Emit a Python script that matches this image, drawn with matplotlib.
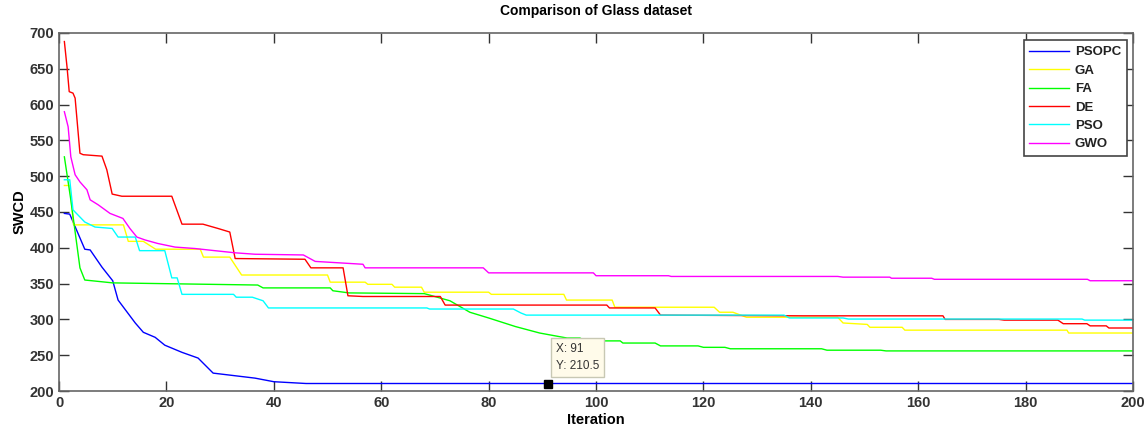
import matplotlib
matplotlib.use('Agg')
import matplotlib.pyplot as plt

# 曲线关键点（迭代次数, SWCD）
psopc_x = [1, 2, 4.8, 5.8, 8, 10, 11, 14.2, 15.7, 17.9, 19.7, 22.9, 25.9, 28.7, 36.5, 40, 46, 200]
psopc_y = [448, 447, 398, 397, 373, 354, 327, 295, 282, 275, 264, 254, 246, 225, 218, 213, 210.5, 210.5]

ga_x = [1, 2, 2.7, 12, 12.9, 15.7, 18, 26.3, 26.9, 31.8, 34, 50, 50.5, 57, 57.5, 62, 62.5, 67.5, 68, 80, 80.5, 94, 94.5,
        103, 103.5, 122, 123, 125.5, 128, 145, 146, 150.5, 151, 157, 157.5, 187.7, 188, 200]
ga_y = [487, 487, 432, 432, 409, 409, 398, 398, 387, 387, 362, 362, 352, 352, 349, 349, 345, 345, 338, 338, 335, 335, 327,
        327, 317, 317, 310, 310, 303, 303, 295, 293, 289, 289, 285, 285, 281, 281]

fa_x = [1, 2.2, 3.9, 4.8, 10, 37, 38, 50.5, 51, 54, 68, 69, 72.8, 76.5, 80, 85, 89.5, 94.6, 97, 98, 104.5, 105, 111, 112,
        119, 120, 124, 125, 142, 143, 153, 154, 200]
fa_y = [527, 467, 372, 355, 351, 348, 344, 344, 340, 337, 336, 334, 326, 310, 302, 290, 281, 274, 274, 270, 270, 267, 267,
        263, 263, 261, 261, 259, 259, 257, 257, 256, 256]

de_x = [1, 1.5, 1.9, 2.6, 3, 3.9, 4.5, 8, 8.9, 9.9, 11.7, 21, 22.9, 26.8, 29.6, 31.8, 32.8, 45.8, 46.9, 52.9, 53.8, 56.6,
        71, 71.9, 102, 102.5, 111, 112, 138.5, 139, 164.6, 165, 175, 176, 186, 187, 191.4, 192, 195, 195.5, 200]
de_y = [688, 652, 618, 616, 609, 532, 530, 528, 509, 475, 472, 472, 433, 433, 427, 422, 385, 384, 372, 372, 333, 332,
        332, 320, 320, 316, 316, 306, 305, 305, 305, 300, 300, 299, 299, 294, 294, 291, 291, 288, 288]

pso_x = [1, 2, 2.6, 4.8, 6.7, 9.9, 11, 14.2, 15, 19.7, 21, 22, 22.9, 32.5, 33, 36, 38, 39, 40, 68.5, 69, 84.6, 86, 87,
         135, 136, 146, 147, 190.5, 191, 200]
pso_y = [495, 495, 453, 436, 429, 427, 415, 415, 396, 396, 358, 358, 335, 335, 331, 331, 326, 316, 316, 316, 314.5, 314.5,
         309, 306, 306, 302, 302, 300.5, 300.5, 299, 299]

gwo_x = [1, 1.7, 2.2, 3, 3.9, 5.2, 5.8, 7.3, 9.5, 11.9, 13.2, 14.5, 16, 18.4, 21.6, 25.3, 29, 32.8, 36.5, 45.5, 47.7,
         56.6, 57, 79, 80, 99.5, 100, 113.5, 114, 145, 146, 154.7, 155, 162.5, 163, 191.5, 192, 200]
gwo_y = [590, 569, 527, 502, 492, 481, 467, 460, 448, 441, 427, 415, 411, 406, 401, 399, 396, 393, 391, 390, 381,
         377, 372, 372, 365, 365, 361, 361, 360, 360, 359, 359, 357.5, 357.5, 356, 356, 354, 354]

tip_x = 91
tip_y = 210.5

series = [
    ('PSOPC', psopc_x, psopc_y, '#0000ff'),
    ('GA', ga_x, ga_y, '#ffff00'),
    ('FA', fa_x, fa_y, '#00ff00'),
    ('DE', de_x, de_y, '#ff0000'),
    ('PSO', pso_x, pso_y, '#00ffff'),
    ('GWO', gwo_x, gwo_y, '#ff00ff'),
]

plt.rcParams['font.family'] = ['Liberation Sans', 'DejaVu Sans']

fig = plt.figure(figsize=(11.48, 4.28), dpi=100)
ax = fig.add_axes([0.0514, 0.0864, 0.9356, 0.8366])

for name, xs, ys, color in series:
    ax.plot(xs, ys, color=color, lw=1.0, label=name)

ax.set_xlim(0, 200)
ax.set_ylim(200, 700)
ax.set_xticks(range(0, 201, 20))
ax.set_yticks(range(200, 701, 50))
ax.tick_params(direction='in', top=True, right=True, length=7, width=1,
               labelsize=10.5, colors='#333333', labelcolor='#333333')
for lbl in ax.get_xticklabels() + ax.get_yticklabels():
    lbl.set_fontweight('bold')
for sp in ax.spines.values():
    sp.set_color('#666666')
    sp.set_linewidth(1.2)

ax.set_xlabel('Iteration', fontsize=10.5, fontweight='bold', labelpad=2)
ax.set_ylabel('SWCD', fontsize=10.5, fontweight='bold', labelpad=2)
ax.set_title('Comparison of Glass dataset', fontsize=10, fontweight='bold', pad=13)

leg = ax.legend(loc='upper right', bbox_to_anchor=(0.9945, 0.98), fancybox=False, framealpha=1,
                edgecolor='#444444', fontsize=9.5, handlelength=3.0, labelspacing=0.47,
                borderpad=0.45, handletextpad=0.45, borderaxespad=0.0)
leg.get_frame().set_linewidth(1.2)
for t in leg.get_texts():
    t.set_fontweight('bold')
    t.set_color('#222222')

# 数据提示框
ax.plot([tip_x], [tip_y], marker='s', color='black', markersize=6, ls='none')
ax.text(tip_x + 1.5, 226, f'X: {tip_x}\nY: {tip_y}', fontsize=8.5, color='#333333',
        va='bottom', ha='left', linespacing=1.6,
        bbox=dict(boxstyle='square,pad=0.4', facecolor='#fffbea', edgecolor='#c8c8b4', lw=1))

fig.savefig('out.png', dpi=100)
